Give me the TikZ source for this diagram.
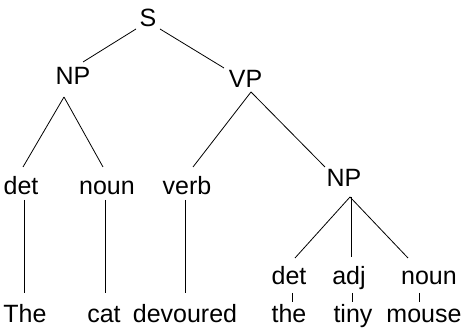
\documentclass[tikz,border=0pt]{standalone}
\usepackage{fontspec}
\setmainfont{Liberation Sans}
\begin{document}
\begin{tikzpicture}[x=1pt,y=1pt,
  lbl/.style={anchor=base,inner sep=0pt,font=\fontsize{25}{28}\selectfont},
  edge/.style={line width=0.8pt}]
\useasboundingbox (0,0) rectangle (472,328);
\node[lbl] (S) at (148,301) {S};
\node[lbl] (NPa) at (73,243) {NP};
\node[lbl] (VP) at (245.5,240) {VP};
\node[lbl] (deta) at (21,133) {det};
\node[lbl] (nouna) at (107,133) {noun};
\node[lbl] (verb) at (187,133) {verb};
\node[lbl] (NPb) at (344,141) {NP};
\node[lbl] (detb) at (289,43) {det};
\node[lbl] (adj) at (349,43) {adj};
\node[lbl] (nounb) at (429,43) {noun};
\node[lbl] (The) at (25,5) {The};
\node[lbl] (cat) at (104,5) {cat};
\node[lbl] (devoured) at (185,5) {devoured};
\node[lbl] (the) at (289,5) {the};
\node[lbl] (tiny) at (353,5) {tiny};
\node[lbl] (mouse) at (424,5) {mouse};
\draw[edge] ([shift={(-12,-2)}]S.base) -- ([shift={(10,23)}]NPa.base);
\draw[edge] ([shift={(12,-2)}]S.base) -- ([shift={(-21.5,20)}]VP.base);
\draw[edge] ([shift={(-9,-12)}]NPa.base) -- ([shift={(2,28)}]deta.base);
\draw[edge] ([shift={(-9,-12)}]NPa.base) -- ([shift={(-4,28)}]nouna.base);
\draw[edge] ([shift={(5.5,-4)}]VP.base) -- ([shift={(6,28)}]verb.base);
\draw[edge] ([shift={(5.5,-4)}]VP.base) -- ([shift={(-19,20)}]NPb.base);
\draw[edge] ([shift={(3,-5)}]deta.base) -- ([shift={(-1,30)}]The.base);
\draw[edge] ([shift={(-2,-5)}]nouna.base) -- ([shift={(1,30)}]cat.base);
\draw[edge] ([shift={(-2,-5)}]verb.base) -- ([shift={(0,30)}]devoured.base);
\draw[edge] ([shift={(6,-10)}]NPb.base) -- ([shift={(6,27)}]detb.base);
\draw[edge] ([shift={(7,-10)}]NPb.base) -- ([shift={(2,28)}]adj.base);
\draw[edge] ([shift={(6,-10)}]NPb.base) -- ([shift={(-21,27)}]nounb.base);
\draw[edge] ([shift={(3,-8)}]detb.base) -- ([shift={(3,21)}]the.base);
\draw[edge] ([shift={(3,-8)}]adj.base) -- ([shift={(-1,21)}]tiny.base);
\draw[edge] ([shift={(-10,-8)}]nounb.base) -- ([shift={(-5,21)}]mouse.base);
\end{tikzpicture}
\end{document}
